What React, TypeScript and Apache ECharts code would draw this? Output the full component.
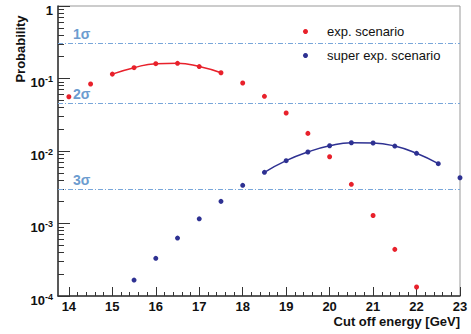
import React, { useEffect, useRef } from "react";
import * as echarts from "echarts";

const redX = [14, 14.5, 15, 15.5, 16, 16.5, 17, 17.5, 18, 18.5, 19, 19.5, 20, 20.5, 21, 21.5, 22];
const redY = [0.056, 0.084, 0.115, 0.141, 0.16, 0.162, 0.146, 0.12, 0.0867, 0.0568, 0.0334, 0.0175, 0.00834, 0.00347, 0.00129, 0.00044, 0.000133];
const blueX = [15.5, 16, 16.5, 17, 17.5, 18, 18.5, 19, 19.5, 20, 20.5, 21, 21.5, 22, 22.5, 23];
const blueY = [0.000166, 0.000331, 0.00063, 0.00116, 0.00202, 0.00336, 0.00508, 0.00735, 0.00969, 0.0118, 0.013, 0.0129, 0.0117, 0.00929, 0.00668, 0.00428];
const redFitRange = [15, 17.5];
const blueFitRange = [18.5, 22.5];
const sigmaLabels = ["1σ", "2σ", "3σ"];
const sigmaValues = [0.305, 0.0455, 0.003];
const xTicks = [14, 15, 16, 17, 18, 19, 20, 21, 22, 23];
const seriesNames = ["exp. scenario", "super exp. scenario"];

const FONT = "'Liberation Sans', Arial, Helvetica, sans-serif";
const RED = "#e8212b";
const BLUE = "#2e3192";
const SIGMA = "#78a6da";
const SIGMA_TEXT = "#6c9ccf";
const X_MIN = 13.75;
const X_MAX = 23;

export default function App() {
  const ref = useRef<HTMLDivElement>(null);
  useEffect(() => {
    if (!ref.current) return;
    const chart = echarts.init(ref.current, null, { renderer: "svg" });
    const redPts = redX.map((x, i) => [x, redY[i]]);
    const bluePts = blueX.map((x, i) => [x, blueY[i]]);
    const redFit = redPts.filter((p) => p[0] >= redFitRange[0] && p[0] <= redFitRange[1]);
    const blueFit = bluePts.filter((p) => p[0] >= blueFitRange[0] && p[0] <= blueFitRange[1]);
    const minorX: number[] = [];
    for (let i = 0; i < xTicks.length - 1; i++) {
      for (let j = 1; j < 5; j++) minorX.push(Math.round((xTicks[i] + j * 0.2) * 100) / 100);
    }
    const sigmaLineStyle = { color: SIGMA, type: [5, 2, 1, 2], width: 1, opacity: 1 };
    const option: any = {
      animation: false,
      textStyle: { fontFamily: FONT },
      grid: {
        left: 58,
        right: 11,
        top: 6,
        bottom: 38,
        outerBoundsMode: "none",
        containLabel: false,
        show: true,
        borderColor: "#999",
        borderWidth: 1,
      },
      legend: {
        data: seriesNames,
        orient: "vertical",
        left: 298,
        top: 19,
        icon: "circle",
        itemWidth: 5,
        itemHeight: 5,
        itemGap: 9,
        itemStyle: { opacity: 1 },
        textStyle: { fontSize: 13, color: "#111", fontFamily: FONT, padding: [0, 0, 0, 14], lineHeight: 15 },
      },
      xAxis: [
        {
          type: "value",
          min: X_MIN,
          max: X_MAX,
          splitLine: { show: false },
          axisLine: { lineStyle: { color: "#333", width: 1.5 } },
          axisTick: { inside: true, length: 9, customValues: xTicks, lineStyle: { color: "#333" } },
          axisLabel: {
            customValues: xTicks,
            color: "#111",
            fontWeight: "bold",
            fontSize: 13,
            margin: 4,
            fontFamily: FONT,
          },
          name: "Cut off energy [GeV]",
          nameLocation: "end",
          nameGap: 0,
          nameTextStyle: {
            align: "right",
            verticalAlign: "top",
            fontWeight: "bold",
            fontSize: 13,
            color: "#111",
            padding: [19, 0, 0, 0],
            fontFamily: FONT,
          },
        },
        {
          type: "value",
          position: "bottom",
          min: X_MIN,
          max: X_MAX,
          splitLine: { show: false },
          axisLine: { show: false },
          axisLabel: { show: false },
          axisTick: { inside: true, length: 4, customValues: minorX, lineStyle: { color: "#333" } },
        },
      ],
      yAxis: {
        type: "log",
        logBase: 10,
        min: 1e-4,
        max: 1,
        splitLine: { show: false },
        axisLine: { lineStyle: { color: "#333", width: 1.5 } },
        axisTick: { inside: true, length: 12, lineStyle: { color: "#333" } },
        minorTick: { show: true, splitNumber: 9, length: 6, lineStyle: { color: "#333" } },
        axisLabel: {
          margin: 5,
          padding: [8, 0, 0, 0],
          formatter: (v: number) => {
            if (Math.abs(v - 1) < 1e-9) return "{b|1}";
            const e = Math.round(Math.log10(v));
            return "{b|10}{s|" + e + "}";
          },
          rich: {
            b: { fontSize: 13, fontWeight: "bold", color: "#111", fontFamily: FONT, lineHeight: 16 },
            s: { fontSize: 9, fontWeight: "bold", color: "#111", fontFamily: FONT, verticalAlign: "top", lineHeight: 16, padding: [0, 0, 6, 0] },
          },
        },
      },
      graphic: [
        {
          type: "text",
          x: 20,
          y: 49,
          rotation: Math.PI / 2,
          style: {
            text: "Probability",
            fontFamily: FONT,
            fontSize: 13,
            fontWeight: "bold",
            fill: "#111",
            align: "center",
            verticalAlign: "middle",
          },
        },
      ],
      series: [
        {
          name: seriesNames[0],
          type: "scatter",
          data: redPts,
          symbolSize: 5,
          itemStyle: { color: RED, opacity: 1 },
          markLine: {
            silent: true,
            symbol: "none",
            lineStyle: sigmaLineStyle,
            label: {
              position: "insideStartTop",
              distance: [15, 2],
              fontSize: 14,
              fontWeight: "bold",
              color: SIGMA_TEXT,
              fontFamily: FONT,
            },
            data: sigmaValues.map((v, i) => [
              { coord: [X_MIN, v], label: { formatter: sigmaLabels[i] }, lineStyle: sigmaLineStyle },
              { coord: [X_MAX, v] },
            ]),
          },
        },
        {
          name: seriesNames[1],
          type: "scatter",
          data: bluePts,
          symbolSize: 5,
          itemStyle: { color: BLUE, opacity: 1 },
        },
        {
          name: "redFit",
          type: "line",
          data: redFit,
          smooth: true,
          showSymbol: false,
          lineStyle: { color: RED, width: 1.5 },
        },
        {
          name: "blueFit",
          type: "line",
          data: blueFit,
          smooth: true,
          showSymbol: false,
          lineStyle: { color: BLUE, width: 1.5 },
        },
      ],
    };
    chart.setOption(option);
    return () => chart.dispose();
  }, []);
  return (
    <div
      ref={ref}
      style={{ position: "fixed", left: 0, top: 0, width: 471, height: 334, background: "#fff" }}
    />
  );
}
